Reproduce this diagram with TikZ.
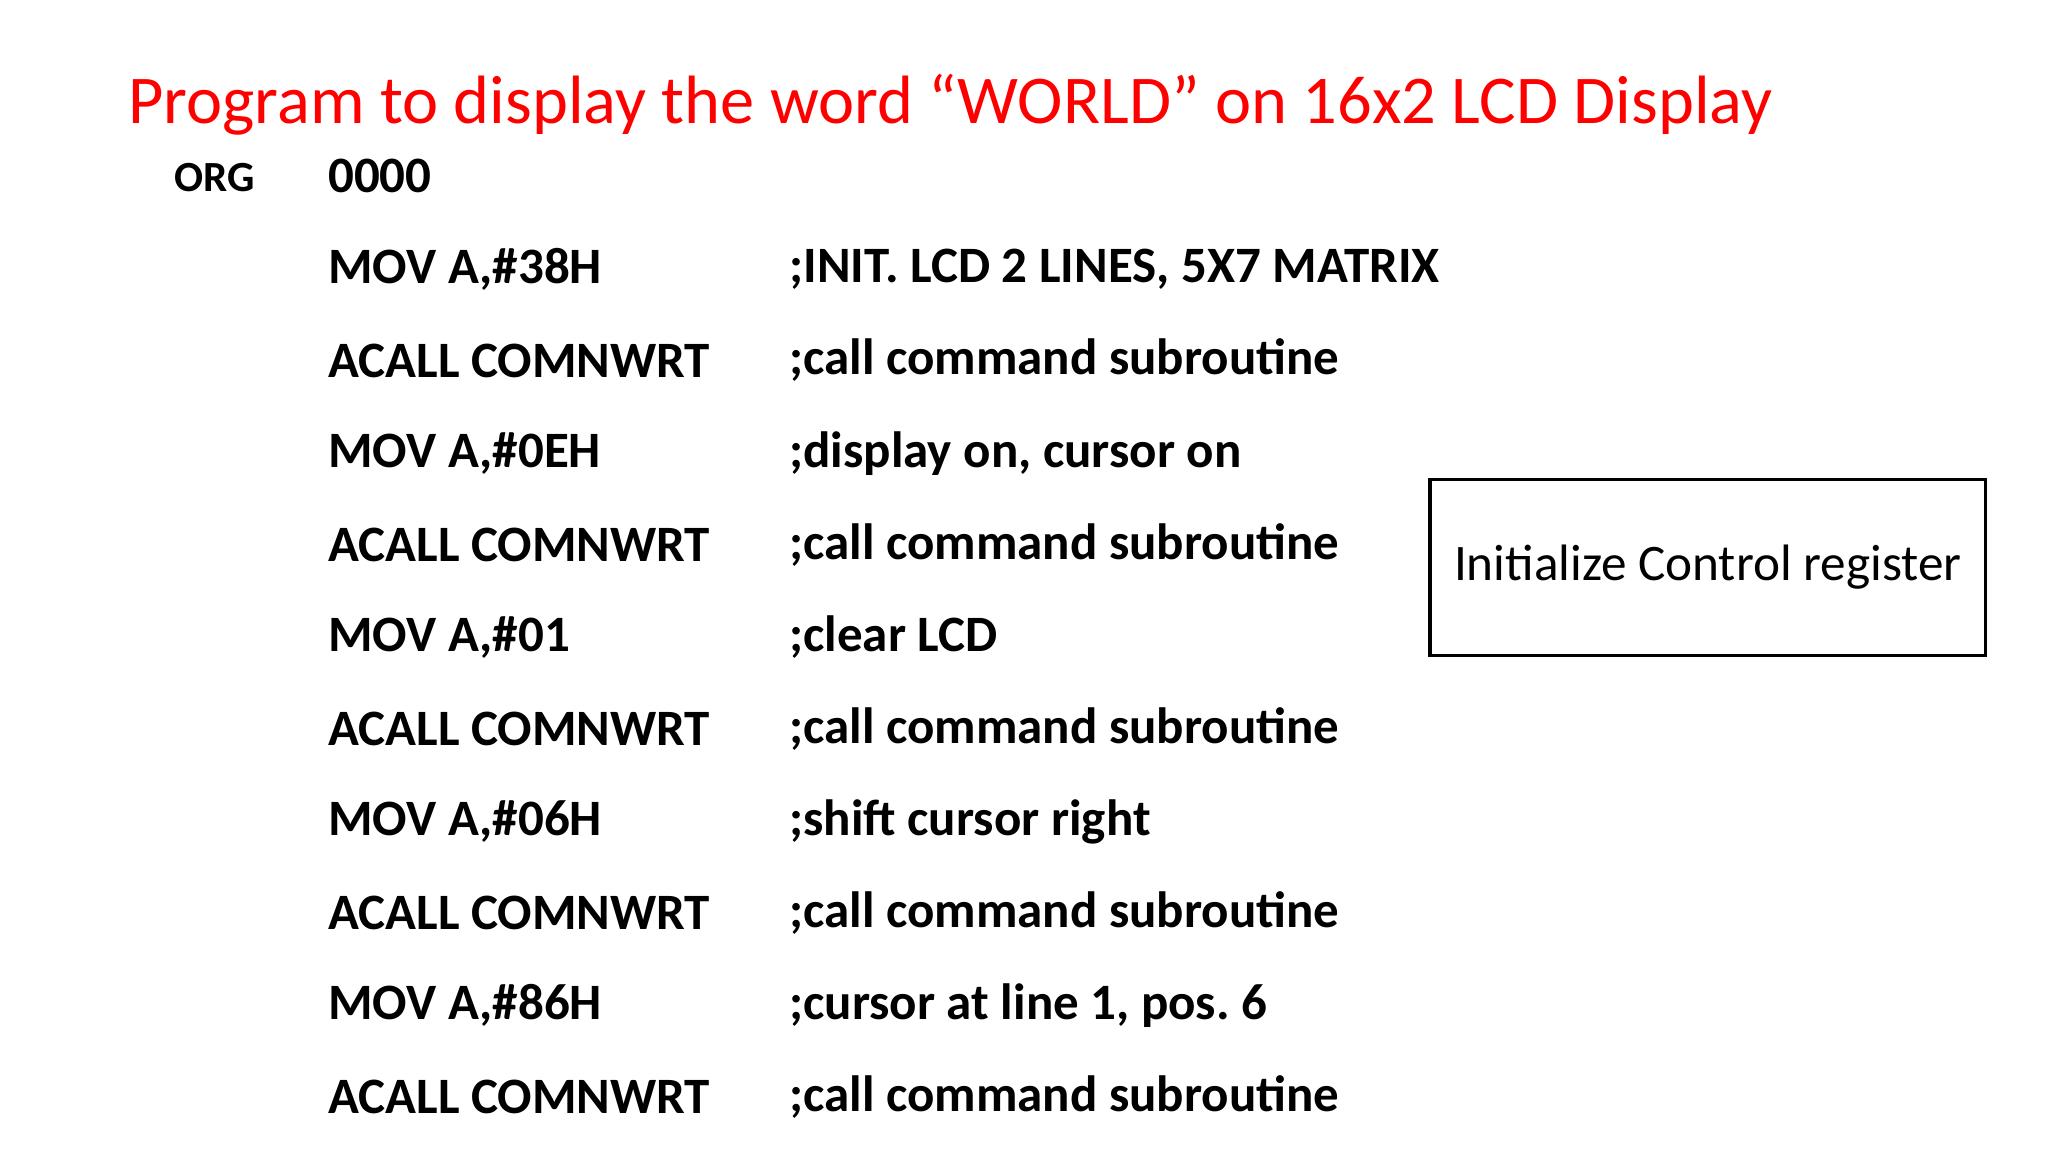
\documentclass[tikz,border=0pt]{standalone}
\usepackage{fontspec}
\setmainfont{Carlito}
\frenchspacing
\begin{document}
\begin{tikzpicture}[x=0.653pt,y=-0.653pt,
  code/.style={anchor=west,inner sep=0pt,font=\fontsize{25.5}{28}\selectfont\bfseries},
  lbl/.style={draw=black,line width=1.8pt,minimum width=425*0.653pt,minimum height=135*0.653pt,font=\fontsize{25.6}{28}\selectfont}]
\useasboundingbox (0,0) rectangle (1568,882);
\node[anchor=west,inner sep=0pt,text=red,font=\fontsize{34.2}{38}\selectfont] (title) at (98,80) {Program to display the word “WORLD” on 16x2 LCD Display};
\node[code,font=\fontsize{21.5}{24}\selectfont\bfseries] (org) at (133,136) {ORG};
\node[code] (o0) at (251,135) {0000};
\foreach \y/\a/\b [count=\i] in {206/MOV A{,}\#38H/;INIT. LCD 2 LINES{,} 5X7 MATRIX,
  276/ACALL COMNWRT/;call command subroutine,
  347/MOV A{,}\#0EH/;display on{,} cursor on,
  417/ACALL COMNWRT/;call command subroutine,
  488/MOV A{,}\#01/;clear LCD,
  558/ACALL COMNWRT/;call command subroutine,
  629/MOV A{,}\#06H/;shift cursor right,
  699/ACALL COMNWRT/;call command subroutine,
  770/MOV A{,}\#86H/;cursor at line 1{,} pos. 6,
  840/ACALL COMNWRT/;call command subroutine}
{
  \node[code] (i\i) at (251,\y) {\a};
  \node[code] (c\i) at (604,\y) {\b};
}
\node[lbl] (box) at (1307.5,434.5) {Initialize Control register};
\end{tikzpicture}
\end{document}
